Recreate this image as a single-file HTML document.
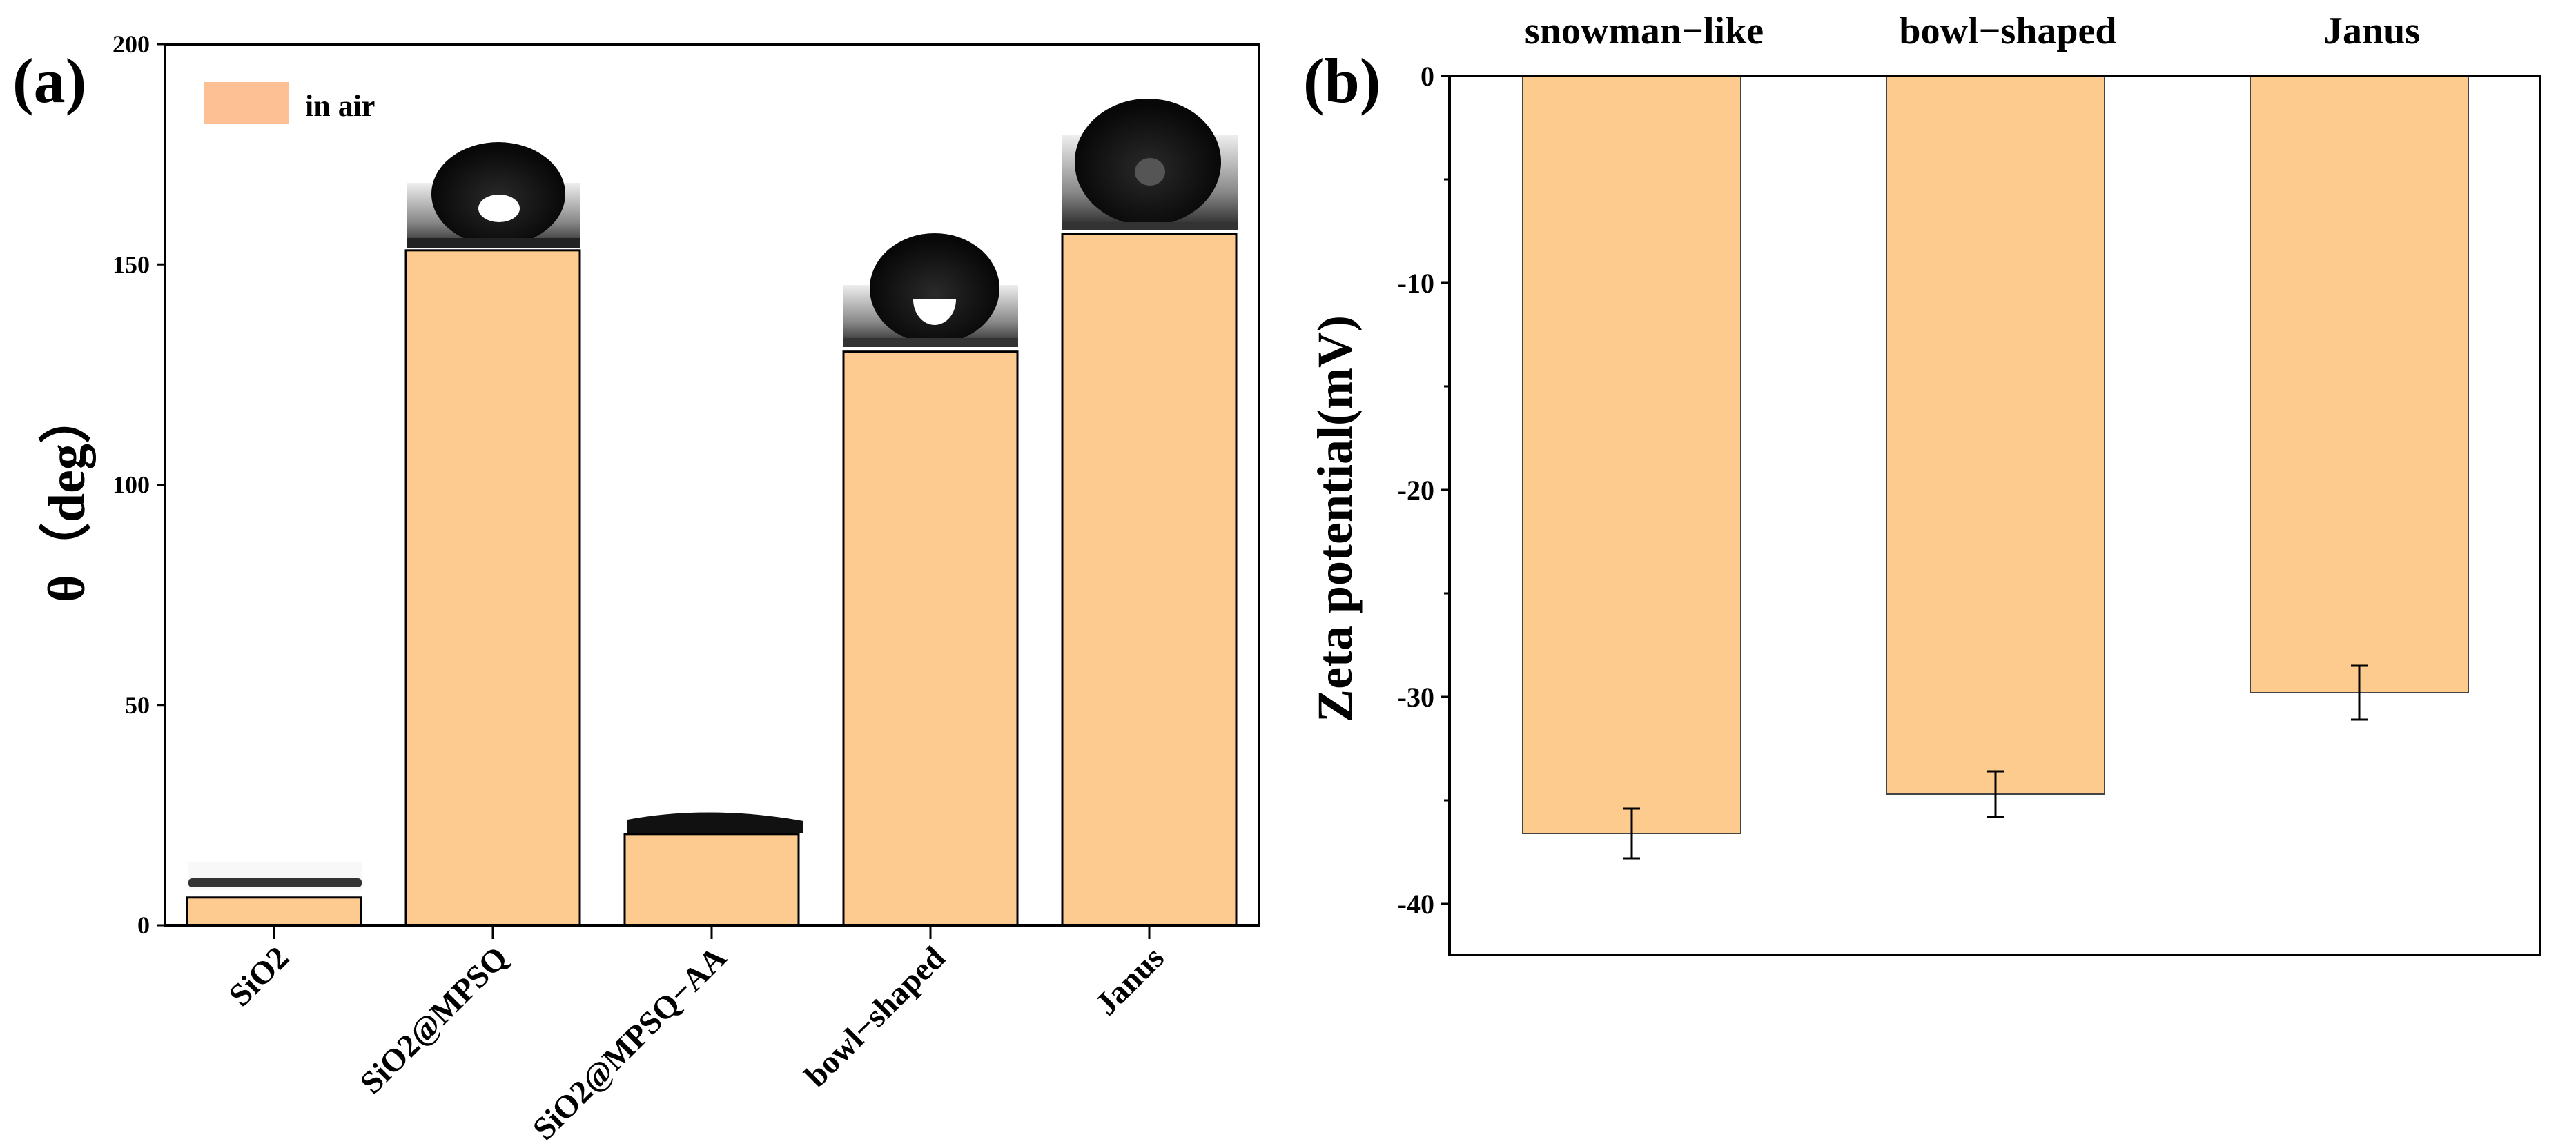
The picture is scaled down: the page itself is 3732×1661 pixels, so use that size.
<!DOCTYPE html>
<html><head><meta charset="utf-8"><style>
html,body{margin:0;background:#fff;overflow:hidden;width:3732px;height:1661px}
svg{display:block}
svg text{font-family:"Liberation Serif",serif;font-weight:bold;fill:#000}
</style></head><body>
<svg width="3732" height="1661" viewBox="0 0 3732 1661">
<defs>
<linearGradient id="bg" x1="0" y1="0" x2="0" y2="1"><stop offset="0" stop-color="#eee"/><stop offset="0.6" stop-color="#888"/><stop offset="1" stop-color="#222"/></linearGradient>
<radialGradient id="dg" cx="0.5" cy="0.55" r="0.5"><stop offset="0" stop-color="#2a2a2a"/><stop offset="1" stop-color="#080808"/></radialGradient>
</defs>
<g id="pa"></g>
<g id="pb"></g>
</svg>
<script>
const catsA=["SiO2","SiO2@MPSQ","SiO2@MPSQ−AA","bowl−shaped","Janus"];
const valsA=[6.3,153.2,20.7,130.2,156.9];
const ticksA=[0,50,100,150,200];
const catsB=["snowman−like","bowl−shaped","Janus"];
const valsB=[-36.6,-34.7,-29.8];
const errsB=[1.2,1.1,1.3];
const ticksB=[0,-10,-20,-30,-40];
const NS="http://www.w3.org/2000/svg";
function mk(p,t,a,txt){const e=document.createElementNS(NS,t);for(const k in a)e.setAttribute(k,a[k]);if(txt!=null)e.textContent=txt;p.appendChild(e);return e;}
// Panel A
const pa=document.getElementById('pa');
const AL=239,AR=1824,AT=64,AB=1341;
const yA=v=>AB-(v-0)/200*(AB-AT);
const xA=i=>397+i*317;
let e;
e=mk(pa,'text',{x:18,y:148,'font-size':92},'(a)');

// droplet insets
const dr=mk(pa,'g',{});

mk(dr,'rect',{x:273,y:1250,width:251,height:40,fill:'#f8f8f8'});
mk(dr,'rect',{x:273,y:1273,width:251,height:13,fill:'#333',rx:5});
mk(dr,'path',{d:'M909 1207 L909 1188 Q1030 1166 1164 1190 L1164 1207 Z',fill:'#111'});
mk(dr,'rect',{x:590,y:265,width:250,height:95,fill:'url(#bg)'});
mk(dr,'ellipse',{cx:722,cy:281,rx:97,ry:75,fill:'url(#dg)'});
mk(dr,'rect',{x:590,y:345,width:250,height:15,fill:'#222'});
mk(dr,'ellipse',{cx:723,cy:302,rx:30,ry:20,fill:'#fff'});
mk(dr,'rect',{x:1222,y:413,width:253,height:90,fill:'url(#bg)'});
mk(dr,'ellipse',{cx:1354,cy:418,rx:94,ry:80,fill:'url(#dg)'});
mk(dr,'rect',{x:1222,y:490,width:253,height:13,fill:'#333'});
mk(dr,'path',{d:'M1323 434 A31 37 0 0 0 1385 434 Z',fill:'#fff'});
mk(dr,'rect',{x:1539,y:196,width:255,height:138,fill:'url(#bg)'});
mk(dr,'ellipse',{cx:1663,cy:235,rx:106,ry:92,fill:'url(#dg)'});
mk(dr,'rect',{x:1539,y:322,width:255,height:12,fill:'#333'});
mk(dr,'ellipse',{cx:1666,cy:249,rx:22,ry:20,fill:'#555'});
catsA.forEach((c,i)=>{
 const y=yA(valsA[i]);
 e=mk(pa,'rect',{x:xA(i)-126,y:y,width:252,height:AB-y,fill:'#FDCB90',stroke:'#000','stroke-width':3});
 
 e=mk(pa,'line',{x1:xA(i),x2:xA(i),y1:AB,y2:AB+20,stroke:'#000','stroke-width':3});
 
 e=mk(pa,'text',{x:xA(i)+24,y:AB+50,'font-size':47,'text-anchor':'end',transform:`rotate(-45 ${xA(i)+24} ${AB+50})`},c);
 
});
ticksA.forEach(t=>{
 e=mk(pa,'line',{x1:AL-12,x2:AL,y1:yA(t),y2:yA(t),stroke:'#000','stroke-width':3});
 
 e=mk(pa,'text',{x:AL-22,y:yA(t)+12,'font-size':36,'text-anchor':'end'},t);
 
});
e=mk(pa,'rect',{x:AL,y:AT,width:AR-AL,height:AB-AT,fill:'none',stroke:'#000','stroke-width':4});

e=mk(pa,'rect',{x:296,y:119,width:122,height:61,fill:'#FDBF94'});

e=mk(pa,'text',{x:442,y:168,'font-size':44},'in air');

e=mk(pa,'text',{x:0,y:0,'font-size':76,'text-anchor':'middle',transform:'translate(122 720) rotate(-90)'},'θ（deg）');

// Panel B
const pb=document.getElementById('pb');
const BL=2100,BR=3680,BT=110,BB=1384;
const yB=v=>BT-v*30;
const xB=i=>2364+i*527;
e=mk(pb,'text',{x:1888,y:148,'font-size':92},'(b)');

catsB.forEach((c,i)=>{
 const y=yB(valsB[i]);
 e=mk(pb,'rect',{x:xB(i)-158,y:BT,width:316,height:y-BT,fill:'#FECB8F',stroke:'#444','stroke-width':2});
 
 const y1=yB(valsB[i]+errsB[i]),y2=yB(valsB[i]-errsB[i]);
 e=mk(pb,'path',{d:`M${xB(i)} ${y1}V${y2}M${xB(i)-12} ${y1}h24M${xB(i)-12} ${y2}h24`,stroke:'#000','stroke-width':3,fill:'none'});
 
 e=mk(pb,'text',{x:xB(i)+18,y:63,'font-size':56,'text-anchor':'middle'},c);
 
});
for(let v=0;v>=-40;v-=5){
 const maj=v%10===0;
 e=mk(pb,'line',{x1:BL-(maj?12:8),x2:BL,y1:yB(v),y2:yB(v),stroke:'#000','stroke-width':3});
 
}
ticksB.forEach(t=>{
 e=mk(pb,'text',{x:BL-22,y:yB(t)+14,'font-size':40,'text-anchor':'end'},t===0?'0':'-'+Math.abs(t));
 
});
e=mk(pb,'rect',{x:BL,y:BT,width:BR-BL,height:BB-BT,fill:'none',stroke:'#000','stroke-width':4});

e=mk(pb,'text',{x:0,y:0,'font-size':72,'text-anchor':'middle',transform:'translate(1958 752) rotate(-90)'},'Zeta potential(mV)');

</script>
</body></html>
